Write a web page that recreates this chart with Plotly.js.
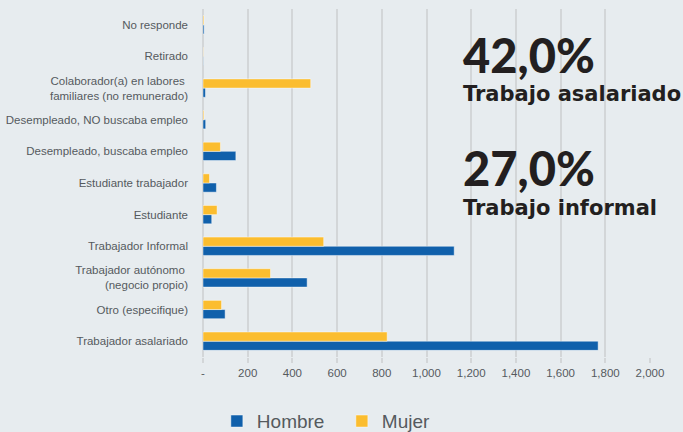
<!DOCTYPE html>
<html>
<head>
<meta charset="utf-8">
<script src="https://cdn.plot.ly/plotly-3.0.1.min.js"></script>
<style>
  html, body { margin: 0; padding: 0; background: #e7ecef; }
  #chart { width: 683px; height: 432px; }
</style>
</head>
<body>
<div id="chart"></div>
<script>
// categorias de abajo hacia arriba
const categorias = [
    "Trabajador asalariado",
    "Otro (especifique)",
    "Trabajador autónomo <br>(negocio propio)",
    "Trabajador Informal",
    "Estudiante",
    "Estudiante trabajador",
    "Desempleado, buscaba empleo",
    "Desempleado, NO buscaba empleo",
    "Colaborador(a) en labores <br>familiares (no remunerado)",
    "Retirado",
    "No responde"
];
const hombre = [1768, 99, 466, 1124, 39, 60, 147, 12, 11, 1, 5];
const mujer = [824, 83, 302, 540, 63, 29, 78, 4, 482, 1, 4];

const tickVals = [0, 200, 400, 600, 800, 1000, 1200, 1400, 1600, 1800, 2000];
const tickText = ["-", "200", "400", "600", "800", "1,000", "1,200", "1,400", "1,600", "1,800", "2,000"];

const gris = "#555a5e";
const fondo = "#e7ecef";

const traceHombre = {
    type: "bar", orientation: "h", name: "Hombre",
    y: categorias, x: hombre,
    marker: { color: "#1060ab", line: { color: "rgba(255,255,255,0.45)", width: 1 } },
    hoverinfo: "x+name"
};
const traceMujer = {
    type: "bar", orientation: "h", name: "Mujer",
    y: categorias, x: mujer,
    marker: { color: "#fbbd2f", line: { color: "rgba(255,255,255,0.45)", width: 1 } },
    hoverinfo: "x+name"
};

const bigFont = { family: "Lato, 'DejaVu Sans', sans-serif", color: "#231f20", size: 47, weight: 900 };
const subFont = { family: "'DejaVu Sans', sans-serif", color: "#231f20", size: 21, weight: 700 };

const layout = {
    width: 683, height: 432,
    paper_bgcolor: fondo, plot_bgcolor: fondo,
    margin: { l: 203, r: 33, t: 9, b: 75 },
    barmode: "group", bargap: 0.42, bargroupgap: 0,
    font: { family: "'Liberation Sans', Arial, sans-serif", color: gris, size: 11.5 },
    xaxis: {
        range: [0, 2000], tickvals: tickVals, ticktext: tickText,
        showgrid: true, gridcolor: "#d3d6d8", gridwidth: 2,
        zeroline: true, zerolinecolor: "#d3d6d8", zerolinewidth: 2,
        ticks: "outside", ticklen: 5, tickcolor: "#d3d6d8", tickwidth: 2,
        tickfont: { size: 11.5, color: gris }, showline: false, fixedrange: true
    },
    yaxis: {
        automargin: false, ticks: "", ticklabelstandoff: 14,
        tickfont: { size: 11.5, color: gris }, showgrid: false, fixedrange: true
    },
    showlegend: true,
    legend: {
        orientation: "h", xref: "paper", x: 0.031, xanchor: "left",
        yref: "container", y: 0.025, yanchor: "middle",
        entrywidth: 80,
        font: { size: 19, color: gris }, bgcolor: "rgba(0,0,0,0)", traceorder: "normal"
    },
    annotations: [
        { text: "42,0%", xref: "paper", yref: "paper", x: 0.577, y: 0.869, xanchor: "left", yanchor: "middle", showarrow: false, font: bigFont },
        { text: "Trabajo asalariado", xref: "paper", yref: "paper", x: 0.577, y: 0.756, xanchor: "left", yanchor: "middle", showarrow: false, font: subFont },
        { text: "27,0%", xref: "paper", yref: "paper", x: 0.577, y: 0.542, xanchor: "left", yanchor: "middle", showarrow: false, font: bigFont },
        { text: "Trabajo informal", xref: "paper", yref: "paper", x: 0.577, y: 0.428, xanchor: "left", yanchor: "middle", showarrow: false, font: subFont }
    ]
};

Plotly.newPlot("chart", [traceHombre, traceMujer], layout, { displayModeBar: false, staticPlot: true });
</script>
</body>
</html>
